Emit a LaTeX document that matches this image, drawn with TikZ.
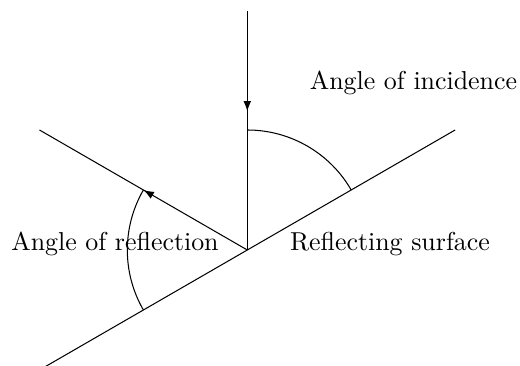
\documentclass[tikz,border=0pt]{standalone}
\usetikzlibrary{arrows.meta,decorations.markings}
\begin{document}
\begin{tikzpicture}[x=0.3861pt,y=0.3861pt,
  midarrow/.style={postaction={decorate},decoration={markings,
    mark=at position #1 with {\arrow{Latex[length=4pt,width=3pt]}}}},
  lbl/.style={anchor=base,inner sep=0pt,font=\fontsize{10}{12}\selectfont}]
\useasboundingbox (0,0) rectangle (520,366);
\coordinate (O) at (247.3,116);
\coordinate (T) at (247.3,355);
\coordinate (R) at (39.5,236);
\coordinate (S1) at (455.1,236);
\coordinate (S2) at (39.5,-4);
\coordinate (A1) at (247.3,236);
\coordinate (A2) at (143.4,176);
% lines
\draw[midarrow=0.42] (T) -- (O);
\draw[midarrow=0.5] (O) -- (R);
\draw (S2) -- (S1);
% arcs
\draw (A1) arc[start angle=90,end angle=30,radius=120];
\draw (A2) arc[start angle=150,end angle=210,radius=120];
% labels
\node[lbl] (inc) at (413.5,276) {Angle of incidence};
\node[lbl] (ref) at (115,115) {Angle of reflection};
\node[lbl] (surf) at (390,115) {Reflecting surface};
\end{tikzpicture}
\end{document}
